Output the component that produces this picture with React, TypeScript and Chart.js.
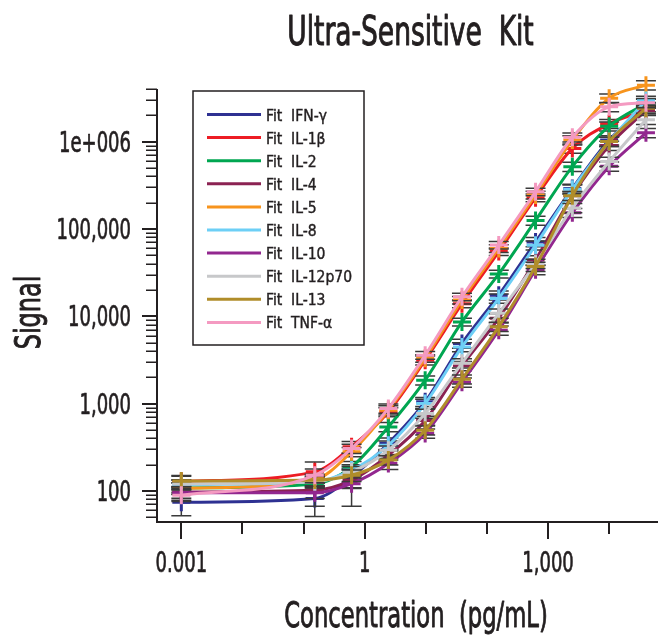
import React, { useEffect, useRef } from 'react';
import { Chart, registerables } from 'chart.js';

Chart.register(...registerables);

// ---------------- data ----------------
const concentrations = [0.001, 0.1526, 0.6104, 2.441, 9.766, 39.06, 156.25, 625, 2500, 10000, 40000];

const seriesNames = ['IFN-γ', 'IL-1β', 'IL-2', 'IL-4', 'IL-5', 'IL-8', 'IL-10', 'IL-12p70', 'IL-13', 'TNF-α'];
const seriesColors = ['#2e3192', '#ed1c24', '#00a651', '#8b2252', '#f7941d', '#6dcff6', '#92278f', '#c7c8ca', '#b08d2a', '#f49ac1'];

const ifnG = [74, 82, 145, 350, 1050, 4870, 17400, 71000, 290000, 1040000, 2500000];
const il1b = [128, 165, 320, 800, 3130, 13900, 55000, 228000, 835000, 1600000, 2270000];
const il2 = [108, 120, 188, 540, 1850, 8600, 30500, 125000, 516000, 1500000, 2730000];
const il4 = [97, 102, 133, 256, 640, 2700, 9500, 44000, 240000, 900000, 2270000];
const il5 = [107, 135, 280, 840, 3300, 15300, 59800, 245000, 1040000, 3140000, 4430000];
const il8 = [118, 128, 173, 333, 1000, 4450, 16000, 65000, 284000, 1000000, 2950000];
const il10 = [95, 95, 121, 206, 455, 1750, 6900, 34000, 153000, 520000, 1260000];
const il12p70 = [120, 127, 165, 292, 770, 2900, 10800, 40000, 174000, 590000, 1780000];
const il13 = [130, 133, 151, 225, 495, 1900, 7600, 37000, 240000, 1000000, 2400000];
const tnfA = [89, 151, 305, 880, 3580, 16700, 65200, 266000, 1120000, 2500000, 2780000];

// error bars: standard deviation as % of signal
const errIfnG = [30, 38, 25, 15, 12, 12, 12, 12, 12, 12, 12];
const errIl1b = [15, 30, 15, 12, 12, 10, 10, 10, 12, 12, 12];
const errIl2 = [15, 18, 15, 12, 12, 10, 10, 12, 12, 12, 12];
const errIl4 = [15, 20, 20, 12, 12, 12, 12, 12, 12, 12, 12];
const errIl5 = [15, 15, 12, 12, 10, 10, 10, 10, 12, 12, 12];
const errIl8 = [12, 15, 15, 12, 12, 12, 12, 12, 12, 12, 12];
const errIl10 = [18, 30, 45, 15, 12, 12, 12, 12, 12, 12, 12];
const errIl12p70 = [12, 15, 15, 12, 12, 12, 12, 12, 12, 12, 12];
const errIl13 = [15, 15, 15, 12, 12, 12, 12, 12, 12, 12, 12];
const errTnfA = [15, 18, 12, 12, 10, 10, 10, 10, 12, 12, 12];

const seriesValues = [ifnG, il1b, il2, il4, il5, il8, il10, il12p70, il13, tnfA];
const seriesErrors = [errIfnG, errIl1b, errIl2, errIl4, errIl5, errIl8, errIl10, errIl12p70, errIl13, errTnfA];

// axes
const xMin = 0.0004;
const xMax = 63000;
const yMin = 44;
const yMax = 4000000;
const xTickValues = [0.001, 0.01, 0.1, 1, 10, 100, 1000, 10000];
const xTickLabels = ['0.001', '', '', '1', '', '', '1,000', ''];
const yTickValues = [100, 1000, 10000, 100000, 1000000];
const yTickLabels = ['100', '1,000', '10,000', '100,000', '1e+006'];
const yMinorMultipliers = [2, 3, 4, 5, 6, 7, 8, 9];
const yMinorDecades = [10, 100, 1000, 10000, 100000, 1000000];

const titleText = 'Ultra-Sensitive  Kit';
const xTitle = 'Concentration  (pg/mL)';
const yTitle = 'Signal';

const FONT = "'DejaVu Sans Condensed', 'Liberation Sans Narrow', sans-serif";
const INK = '#231f20';

// draw horizontally condensed text (the reference uses a narrow face)
function condensedText(
  ctx: CanvasRenderingContext2D,
  text: string,
  x: number,
  y: number,
  size: number,
  squeeze: number,
  align: CanvasTextAlign,
  weight: number,
  rotate = false
) {
  ctx.save();
  ctx.translate(x, y);
  if (rotate) ctx.rotate(-Math.PI / 2);
  ctx.scale(squeeze, 1);
  ctx.font = `${size}px ${FONT}`;
  ctx.fillStyle = INK;
  ctx.strokeStyle = INK;
  ctx.lineWidth = weight;
  ctx.lineJoin = 'round';
  ctx.textAlign = align;
  ctx.textBaseline = 'alphabetic';
  ctx.fillText(text, 0, 0);
  if (weight > 0) ctx.strokeText(text, 0, 0);
  ctx.restore();
}

// ---------------- plugins ----------------
const errorBarPlugin = {
  id: 'errorBars',
  beforeDatasetDraw(chart: any, args: any) {
    const i = args.index;
    const vals = seriesValues[i];
    const errs = seriesErrors[i];
    const xs = chart.scales.x;
    const ys = chart.scales.y;
    const ctx = chart.ctx;
    ctx.save();
    ctx.strokeStyle = '#3a3a3a';
    ctx.lineWidth = 1.5;
    concentrations.forEach((c, j) => {
      const v = vals[j];
      const sd = (v * errs[j]) / 100;
      const px = xs.getPixelForValue(c);
      const top = ys.getPixelForValue(v + sd);
      const bot = ys.getPixelForValue(Math.max(v - sd, 1));
      ctx.beginPath();
      ctx.moveTo(px, top);
      ctx.lineTo(px, bot);
      ctx.moveTo(px - 10, top);
      ctx.lineTo(px + 10, top);
      ctx.moveTo(px - 10, bot);
      ctx.lineTo(px + 10, bot);
      ctx.stroke();
    });
    ctx.restore();
  },
};

const axesPlugin = {
  id: 'customAxes',
  afterDatasetsDraw(chart: any) {
    const { ctx, chartArea } = chart;
    const xs = chart.scales.x;
    const ys = chart.scales.y;
    ctx.save();
    ctx.strokeStyle = INK;
    ctx.lineWidth = 2;
    ctx.lineCap = 'butt';
    // axis lines
    ctx.beginPath();
    ctx.moveTo(chartArea.left, chartArea.top);
    ctx.lineTo(chartArea.left, chartArea.bottom + 1);
    ctx.moveTo(chartArea.left - 1, chartArea.bottom);
    ctx.lineTo(chartArea.right, chartArea.bottom);
    ctx.stroke();
    // x ticks
    ctx.beginPath();
    xTickValues.forEach((v, k) => {
      const px = Math.round(xs.getPixelForValue(v));
      const len = xTickLabels[k] ? 17 : 12;
      ctx.moveTo(px, chartArea.bottom);
      ctx.lineTo(px, chartArea.bottom + len);
    });
    // y major ticks
    yTickValues.forEach((v) => {
      const py = Math.round(ys.getPixelForValue(v));
      ctx.moveTo(chartArea.left, py);
      ctx.lineTo(chartArea.left - 15, py);
    });
    ctx.stroke();
    // y minor ticks
    ctx.lineWidth = 1.5;
    ctx.beginPath();
    yMinorDecades.forEach((d) => {
      yMinorMultipliers.forEach((m) => {
        const v = d * m;
        if (v < yMin || v > yMax) return;
        const py = Math.round(ys.getPixelForValue(v)) + 0.25;
        ctx.moveTo(chartArea.left, py);
        ctx.lineTo(chartArea.left - 11, py);
      });
    });
    ctx.stroke();
    ctx.restore();

    // tick labels, placed through the scales
    xTickValues.forEach((v, k) => {
      if (!xTickLabels[k]) return;
      condensedText(ctx, xTickLabels[k], xs.getPixelForValue(v), 571.5, 28, 0.715, 'center', 0.7);
    });
    yTickValues.forEach((v, k) => {
      condensedText(ctx, yTickLabels[k], 131, ys.getPixelForValue(v) + 10.2, 28, 0.715, 'right', 0.7);
    });

    // titles
    const midX = (chartArea.left + chartArea.right) / 2;
    const midY = (chartArea.top + chartArea.bottom) / 2;
    condensedText(ctx, titleText, midX + 3, 45, 40, 0.736, 'center', 1);
    condensedText(ctx, xTitle, midX + 8.5, 626.5, 36, 0.7, 'center', 0.9);
    condensedText(ctx, yTitle, 40, midY + 7, 36, 0.74, 'center', 0.9, true);
  },
};

const legendPlugin = {
  id: 'boxLegend',
  afterDraw(chart: any) {
    const ctx = chart.ctx;
    const bx = 193;
    const by = 91;
    const bw = 171;
    const bh = 254;
    ctx.save();
    ctx.fillStyle = '#ffffff';
    ctx.fillRect(bx, by, bw, bh);
    ctx.strokeStyle = INK;
    ctx.lineWidth = 1.5;
    ctx.strokeRect(bx, by, bw, bh);
    ctx.font = `15.5px ${FONT}`;
    ctx.textBaseline = 'alphabetic';
    ctx.textAlign = 'left';
    seriesNames.forEach((name, i) => {
      const y = 114.5 + i * 23.1;
      ctx.strokeStyle = seriesColors[i];
      ctx.lineWidth = 3;
      ctx.beginPath();
      ctx.moveTo(207, y);
      ctx.lineTo(261, y);
      ctx.stroke();
      ctx.fillStyle = INK;
      ctx.strokeStyle = INK;
      ctx.lineWidth = 0.4;
      ctx.fillText('Fit  ' + name, 266, y + 6);
      ctx.strokeText('Fit  ' + name, 266, y + 6);
    });
    ctx.restore();
  },
};

// ---------------- component ----------------
export default function App() {
  const canvasRef = useRef<HTMLCanvasElement | null>(null);

  useEffect(() => {
    const canvas = canvasRef.current;
    if (!canvas) return;
    const n = seriesNames.length;
    const chart = new Chart(canvas, {
      type: 'line',
      data: {
        datasets: seriesNames.map((name, i) => ({
          label: 'Fit  ' + name,
          data: concentrations.map((c, j) => ({ x: c, y: seriesValues[i][j] })),
          borderColor: seriesColors[i],
          backgroundColor: seriesColors[i],
          borderWidth: 3,
          pointStyle: 'cross',
          pointRadius: 9,
          pointBorderWidth: 3,
          pointBorderColor: seriesColors[i],
          pointHoverRadius: 9,
          cubicInterpolationMode: 'monotone',
          fill: false,
          clip: false,
          order: n - 1 - i,
        })),
      },
      options: {
        animation: false,
        responsive: false,
        maintainAspectRatio: false,
        devicePixelRatio: 1,
        layout: { autoPadding: false, padding: { left: 0, right: 0, top: 89, bottom: 0 } },
        plugins: {
          legend: { display: false },
          tooltip: { enabled: false },
          title: { display: false },
        },
        scales: {
          x: {
            type: 'logarithmic',
            position: 'bottom',
            min: xMin,
            max: xMax,
            bounds: 'data',
            afterBuildTicks: (scale: any) => {
              scale.ticks = xTickValues.map((v) => ({ value: v }));
            },
            afterFit: (scale: any) => {
              scale.height = 113;
            },
            grid: { display: false, drawTicks: false },
            border: { display: false },
            ticks: { display: false },
            title: { display: false },
          },
          y: {
            type: 'logarithmic',
            position: 'left',
            min: yMin,
            max: yMax,
            bounds: 'data',
            afterBuildTicks: (scale: any) => {
              scale.ticks = yTickValues.map((v) => ({ value: v }));
            },
            afterFit: (scale: any) => {
              scale.width = 157;
            },
            grid: { display: false, drawTicks: false },
            border: { display: false },
            ticks: { display: false },
            title: { display: false },
          },
        },
      },
      plugins: [errorBarPlugin, axesPlugin, legendPlugin],
    } as any);
    return () => chart.destroy();
  }, []);

  return (
    <div style={{ position: 'fixed', left: 0, top: 0, width: 658, height: 635, background: '#ffffff' }}>
      <canvas ref={canvasRef} width={658} height={635} style={{ width: 658, height: 635, display: 'block' }} />
    </div>
  );
}
